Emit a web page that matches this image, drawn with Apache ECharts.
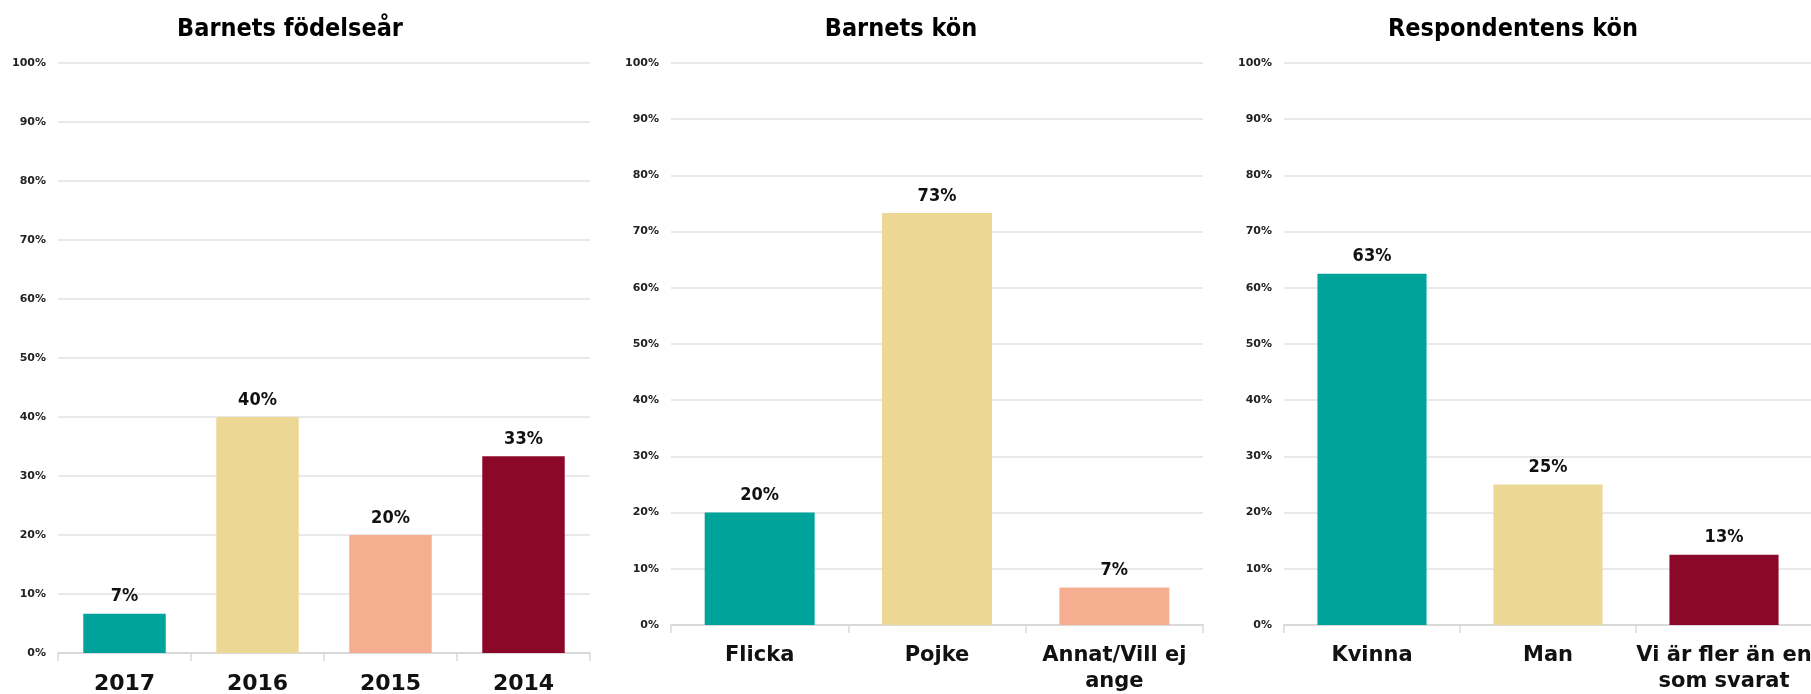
<!DOCTYPE html>
<html>
<head>
<meta charset="utf-8">
<script src="https://cdn.jsdelivr.net/npm/echarts@6/dist/echarts.min.js"></script>
<style>
  html, body { margin: 0; padding: 0; background: #fff; }
  #chart { width: 1811px; height: 694px; }
</style>
</head>
<body>
<div id="chart"></div>
<script>
// data
var titles = ['Barnets födelseår', 'Barnets kön', 'Respondentens kön'];
var yearCats = ['2017', '2016', '2015', '2014'];
var yearVals = [6.67, 40, 20, 33.33];
var childCats = ['Flicka', 'Pojke', 'Annat/Vill ej\nange'];
var childVals = [20, 73.33, 6.67];
var respCats = ['Kvinna', 'Man', 'Vi är fler än en\nsom svarat'];
var respVals = [62.5, 25, 12.5];

var teal = '#00a39a', sand = '#edd794', salmon = '#f6ae90', wine = '#8c0828';
var yearColors = [teal, sand, salmon, wine];
var childColors = [teal, sand, salmon];
var respColors = [teal, sand, wine];

var myChart = echarts.init(document.getElementById('chart'));
var font = 'DejaVu Sans';
var condensed = "'DejaVu Sans Condensed', 'DejaVu Sans'";

function yAx(i) {
    return {
        type: 'value', gridIndex: i, min: 0, max: 100, interval: 10,
        axisLabel: { formatter: '{value}%', fontFamily: font, fontWeight: 'bold', fontSize: 11, color: '#222', margin: 12 },
        splitLine: { lineStyle: { color: '#e2e2e2', width: 1.5 } },
        axisLine: { show: false }, axisTick: { show: false }
    };
}
function xAx(i, cats, size) {
    return {
        type: 'category', gridIndex: i, data: cats,
        axisLine: { lineStyle: { color: '#d9d9d9', width: 2 } },
        axisTick: { show: true, length: 8, lineStyle: { color: '#d9d9d9', width: 1.5 } },
        axisLabel: { fontFamily: font, fontWeight: 'bold', fontSize: size, color: '#111', margin: 18, lineHeight: 26, interval: 0 }
    };
}
function bars(i, vals, colors) {
    return {
        type: 'bar', xAxisIndex: i, yAxisIndex: i, barWidth: '62%',
        data: vals.map(function (v, k) { return { value: v, itemStyle: { color: colors[k] } }; }),
        label: {
            show: true, position: 'top', distance: 8, fontFamily: condensed, fontWeight: 'bold', fontSize: 18, color: '#111',
            formatter: function (p) { return Math.round(p.value) + '%'; }
        }
    };
}

var option = {
    animation: false,
    title: [
        { text: titles[0], left: 285, top: 12, textAlign: 'center' },
        { text: titles[1], left: 896, top: 12, textAlign: 'center' },
        { text: titles[2], left: 1508, top: 12, textAlign: 'center' }
    ].map(function (t) {
        t.textStyle = { fontFamily: condensed, fontWeight: 'bold', fontSize: 25, color: '#000' };
        return t;
    }),
    grid: [
        { left: 58, width: 532, top: 63, bottom: 41, outerBoundsMode: 'none' },
        { left: 671, width: 532, top: 63, bottom: 69, outerBoundsMode: 'none' },
        { left: 1284, width: 528, top: 63, bottom: 69, outerBoundsMode: 'none' }
    ],
    xAxis: [xAx(0, yearCats, 22), xAx(1, childCats, 21), xAx(2, respCats, 21)],
    yAxis: [yAx(0), yAx(1), yAx(2)],
    series: [bars(0, yearVals, yearColors), bars(1, childVals, childColors), bars(2, respVals, respColors)]
};
myChart.setOption(option);
</script>
</body>
</html>
